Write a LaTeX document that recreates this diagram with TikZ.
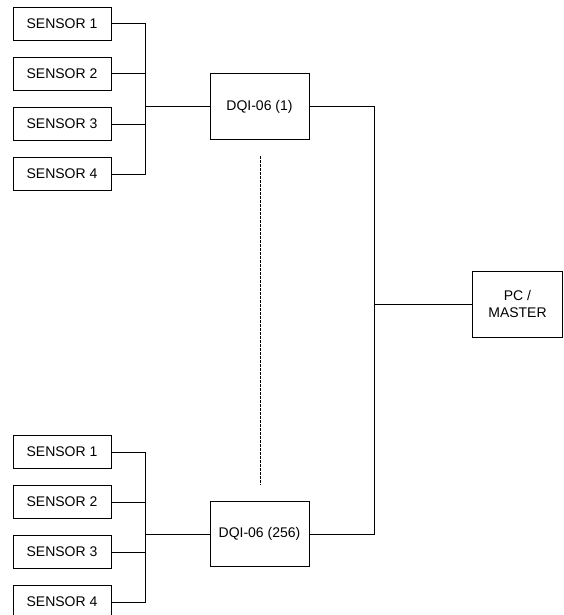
\documentclass[tikz,border=0pt]{standalone}
\usepackage{fontspec}
\setmainfont{Liberation Sans}
\usetikzlibrary{positioning}
\tikzstyle{sensor} = [rectangle, draw, minimum width=98pt, minimum height=33pt, inner sep=0pt]
\tikzstyle{dqi} = [rectangle, draw, minimum width=99pt, minimum height=65pt, inner sep=0pt]
\tikzstyle{master} = [rectangle, draw, minimum width=90pt, minimum height=66pt, align=center, inner sep=0pt]
\tikzstyle{line} = [draw, line width=1pt]

\begin{document}
\begin{tikzpicture}[x=1pt, y=-1pt, node distance=16pt, line width=1pt, font=\fontsize{14}{16.5}\selectfont]
  \useasboundingbox (0,0) rectangle (563,615);
  % upper group
  \node (a1) [sensor] at (62,24) {SENSOR 1};
  \node (a2) [sensor, below=of a1] {SENSOR 2};
  \node (a3) [sensor, below=of a2] {SENSOR 3};
  \node (a4) [sensor, below=of a3] {SENSOR 4};
  \node (d1) [dqi] at (259.5,106.5) {DQI-06 (1)};
  \coordinate (ba) at (145,106.5);
  % lower group
  \node (b1) [sensor] at (62,452) {SENSOR 1};
  \node (b2) [sensor, below=of b1] {SENSOR 2};
  \node (b3) [sensor, below=of b2] {SENSOR 3};
  \node (b4) [sensor, below=of b3] {SENSOR 4};
  \node (d2) [dqi] at (259.5,534) {DQI-06 (256)};
  \coordinate (bb) at (145,534);
  % master
  \node (pc) [master] at (517.5,304) {PC /\\MASTER};
  \coordinate (r) at (374,304);
  \coordinate (dt) at (260,156);
  \coordinate (db) at (260,485);
  \draw [line] (a1.east) -| (ba);
  \draw [line] (a4.east) -| (ba);
  \draw [line] (a2.east) -- (a2.east -| ba);
  \draw [line] (a3.east) -- (a3.east -| ba);
  \draw [line] (ba) -- (d1);
  \draw [line] (b1.east) -| (bb);
  \draw [line] (b4.east) -| (bb);
  \draw [line] (b2.east) -- (b2.east -| bb);
  \draw [line] (b3.east) -- (b3.east -| bb);
  \draw [line] (bb) -- (d2);
  \draw [line] (d1.east) -| (r);
  \draw [line] (d2.east) -| (r);
  \draw [line] (r) -- (pc);
  \draw [dash pattern=on 2.5pt off 1.5pt] (dt) -- (db);
\end{tikzpicture}
\end{document}
